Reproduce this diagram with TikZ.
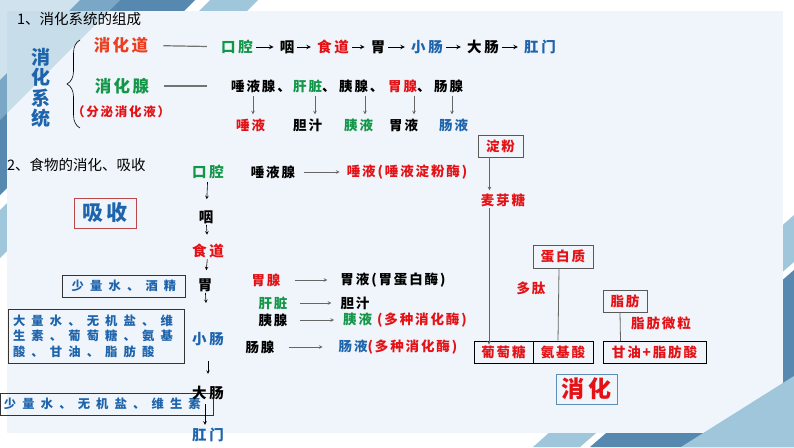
\documentclass[tikz,border=0pt]{standalone}
\usepackage{fontspec}
\newfontfamily\cjk[LetterSpace=14]{Noto Sans CJK SC}
\newfontfamily\cjkc[LetterSpace=20]{Noto Sans CJK SC}
\newfontfamily\cjkw[LetterSpace=50]{Noto Sans CJK SC}
\newfontfamily\cjkt{Noto Sans CJK SC}
\usetikzlibrary{arrows, decorations.pathreplacing}
\definecolor{hRed}{RGB}{228,18,22}
\definecolor{hOrg}{RGB}{236,62,32}
\definecolor{hGrn}{RGB}{18,150,72}
\definecolor{hBlu}{RGB}{30,100,172}
\definecolor{panel}{RGB}{239,245,250}
\definecolor{stripeD}{RGB}{86,136,176}
\definecolor{stripeL}{RGB}{160,198,220}
\definecolor{boxRed}{RGB}{188,72,72}
\definecolor{boxBlu}{RGB}{92,142,182}
\tikzstyle{arrow} = [->,>=stealth]
\tikzstyle{word} = [inner sep=1pt, font=\cjk\bfseries\fontsize{13.5}{15}\selectfont]
\tikzstyle{chain} = [word, font=\cjkc\bfseries\fontsize{14.5}{16}\selectfont]
\tikzstyle{wide} = [font=\cjkw\bfseries\fontsize{12.3}{15.5}\selectfont, text=hBlu]
\tikzstyle{tag} = [word, draw=black!65, line width=0.8pt, text=hRed, inner sep=0pt]
\tikzstyle{link} = [black!55, line width=1.2pt]
\tikzstyle{feed} = [->,>=stealth, black!60, line width=0.6pt]

\begin{document}
\begin{tikzpicture}[x=1pt,y=-1pt]
	\useasboundingbox (0,0) rectangle (794,447);
	% background
	\fill[stripeD] (80,0) -- (195,0) -- (0,195) -- (0,80) -- cycle;
	\fill[stripeL] (210,0) -- (258,0) -- (0,258) -- (0,210) -- cycle;
	\fill[stripeL] (533,447) -- (580,447) -- (794,262) -- (794,215) -- cycle;
	\fill[stripeD] (590,447) -- (794,270) -- (794,447) -- cycle;
	\fill[panel] (7,11) rectangle (783,433);
	\fill[stripeL, opacity=0.5] (0,0) -- (120,0) -- (0,120) -- cycle;
	\fill[stripeL] (681,447) -- (794,376) -- (794,447) -- cycle;

	% part 1
	\node[anchor=west, inner sep=1pt, font=\cjkt\fontsize{14.5}{16}\selectfont] (t1) at (16,19) {1、消化系统的组成};
	\node[word, font=\cjk\bfseries\fontsize{19}{20.5}\selectfont, text=hBlu, align=center] (sys) at (41,88) {消\\化\\系\\统};
	\draw[decorate, decoration={brace, amplitude=13pt}, line width=0.6pt] (80,128) -- (80,40);
	\node[word, font=\cjk\bfseries\fontsize{16.5}{18}\selectfont, text=hOrg] (dao) at (121,45) {消化道};
	\node[word, font=\cjk\bfseries\fontsize{16.5}{18}\selectfont, text=hGrn] (xian) at (122,86) {消化腺};
	\node[word, font=\cjk\bfseries\fontsize{12.5}{14}\selectfont, text=hRed] (fenmi) at (121,112) {（分泌消化液）};

	\node[chain, text=hGrn] (r1) at (237,47) {口腔};
	\node[chain] (r2) at (287,47) {咽};
	\node[chain, text=hRed] (r3) at (333,47) {食道};
	\node[chain] (r4) at (378,47) {胃};
	\node[chain, text=hBlu] (r5) at (427,47) {小肠};
	\node[chain] (r6) at (483,47) {大肠};
	\node[chain, text=hBlu] (r7) at (540,47) {肛门};
	\foreach \a/\b in {r1/r2, r2/r3, r3/r4, r4/r5, r5/r6, r6/r7}
		\draw[arrow, line width=1pt, shorten <=2pt, shorten >=5pt] (\a) -- (\b);
	\draw[link, shorten <=14pt, shorten >=13pt] (dao) -- (r1);

	\node[word, anchor=west] (g1) at (230,86) {唾液腺、};
	\node[word, anchor=west] (g2) at (292,86) {\color{hGrn}肝脏\color{black}、};
	\node[word, anchor=west] (g3) at (338,86) {胰腺、};
	\node[word, anchor=west] (g4) at (387,86) {\color{hRed}胃腺\color{black}、};
	\node[word, anchor=west] (g5) at (433,86) {肠腺};
	\draw[link, shorten <=14pt, shorten >=23pt] (xian) -- (g1.west);

	\node[word, anchor=west, text=hRed] (j1) at (235,125) {唾液};
	\node[word, anchor=west] (j2) at (292,125) {胆汁};
	\node[word, anchor=west, text=hGrn] (j3) at (343,125) {胰液};
	\node[word, anchor=west] (j4) at (388,125) {胃液};
	\node[word, anchor=west, text=hBlu] (j5) at (438,125) {肠液};
	\foreach \g/\j/\dx in {g1/j1/23, g2/j2/23, g3/j3/27, g4/j4/27, g5/j5/19}
		\draw[feed, shorten <=2pt, shorten >=3pt] ([xshift=\dx pt]\g.south west) -- ([xshift=\dx pt]\g.south west |- \j.north);

	% part 2
	\node[anchor=west, inner sep=1pt, font=\cjkt\fontsize{14.5}{16}\selectfont] (t2) at (6,165) {2、食物的消化、吸收};
	\node[word, draw=boxRed, line width=0.8pt, minimum width=62pt, minimum height=30pt, text=hBlu, font=\cjk\bfseries\fontsize{21}{23}\selectfont] (xishou) at (105,213) {吸收};

	\node[chain, text=hGrn] (m1) at (208,172) {口腔};
	\node[chain] (m2) at (206,217) {咽};
	\node[chain, text=hRed] (m3) at (208,251) {食道};
	\node[chain] (m4) at (205,285) {胃};
	\node[chain, text=hBlu] (m5) at (208,339) {小肠};

	\node[wide, draw=black!80, line width=0.8pt, minimum width=123pt, minimum height=22pt, inner sep=0pt] (a1) at (124,286) {少量水、酒精};
	\node[wide, draw=black!80, line width=0.8pt, text width=166pt, align=left, inner xsep=5pt, minimum height=54pt] (a2) at (96,336) {大量水、无机盐、维\\生素、葡萄糖、氨基\\酸、甘油、脂肪酸};
	\node[wide, draw=black!80, line width=0.8pt, text width=205pt, align=left, inner xsep=4pt, minimum height=22pt, inner ysep=0pt] (a3) at (106.5,404) {少量水、无机盐、维生素};

	\node[chain] (m6) at (208,393) {大肠};
	\node[chain, text=hBlu] (m7) at (208,435) {肛门};
	\draw[arrow, line width=0.6pt, shorten <=2pt, shorten >=10pt] (m1) -- (m2);
	\draw[arrow, line width=0.6pt, shorten <=0pt, shorten >=8pt] (m2) -- (m3);
	\draw[arrow, line width=0.6pt, shorten <=0pt, shorten >=7pt] (m3) -- (m4);
	\draw[arrow, line width=0.6pt, shorten <=0pt, shorten >=28pt] (m4) -- (m5);
	\draw[arrow, line width=0.6pt, shorten <=14pt, shorten >=11pt] (m5) -- (m6);
	\draw[arrow, line width=0.6pt, shorten <=3pt, shorten >=2pt] ([xshift=-3pt]m6.south) -- ([xshift=-3pt]m7.north);

	\node[word] (s1) at (273,172) {唾液腺};
	\node[word, text=hRed] (s2) at (407,172) {唾液(唾液淀粉酶)};
	\node[word, text=hRed] (w1) at (266,280) {胃腺};
	\node[word] (w2) at (393,280) {胃液(胃蛋白酶)};
	\node[word, text=hGrn] (n1) at (273,303) {肝脏};
	\node[word] (n2) at (355,303) {胆汁};
	\node[word] (y1) at (273,320) {胰腺};
	\node[word] (y2) at (405,320) {\color{hGrn}胰液 \color{hRed}(多种消化酶)};
	\node[word] (c1) at (260,347) {肠腺};
	\node[word] (c2) at (398,347) {\color{hBlu}肠液\color{hRed}(多种消化酶)};
	\draw[feed, shorten <=8pt, shorten >=6pt] (s1) -- (s2);
	\draw[feed, shorten <=13pt, shorten >=12pt] (w1) -- (w2);
	\draw[feed, shorten <=11pt, shorten >=8pt] (n1) -- (n2);
	\draw[feed, shorten <=11pt, shorten >=8pt] (y1) -- (y2);
	\draw[feed, shorten <=13pt, shorten >=15pt] (c1) -- (c2);

	% digestion
	\node[tag, minimum width=45pt, minimum height=22pt] (dianfen) at (500.5,146) {淀粉};
	\node[word, text=hRed] (maiya) at (503,200) {麦芽糖};
	\node[tag, draw=black, minimum width=59pt, minimum height=22pt] (putao) at (503.5,352) {葡萄糖};
	\node[tag, draw=black, minimum width=60pt, minimum height=22pt] (anji) at (563,352) {氨基酸};
	\node[tag, minimum width=60pt, minimum height=23pt] (danbai) at (563,256.5) {蛋白质};
	\node[word, text=hRed] (duotai) at (531,288) {多肽};
	\node[tag, minimum width=44pt, minimum height=22pt] (zhifang) at (625,301) {脂肪};
	\node[word, text=hRed] (weili) at (661,323) {脂肪微粒};
	\node[tag, draw=black, minimum width=103pt, minimum height=22pt] (ganyou) at (654.5,352.5) {甘油+脂肪酸};
	\node[word, draw=boxBlu, line width=0.8pt, minimum width=61pt, minimum height=30pt, text=hRed, font=\cjk\bfseries\fontsize{23}{25}\selectfont] (xiaohua) at (586.5,389) {消化};

	\draw[feed] ([xshift=-11pt]dianfen.south) -- ([xshift=-11pt,yshift=2pt]dianfen.south |- maiya.north);
	\draw[feed] ([xshift=-14pt]maiya.south) -- ([xshift=-14pt,yshift=-4pt]maiya.south |- putao.north);
	\draw[black!60, line width=0.8pt] ([xshift=-4pt]danbai.south) -- ([xshift=-5pt]anji.north);
	\draw[black!60, line width=0.8pt] ([xshift=-5pt]zhifang.south) -- ([xshift=-34pt]ganyou.north);
\end{tikzpicture}
\end{document}
